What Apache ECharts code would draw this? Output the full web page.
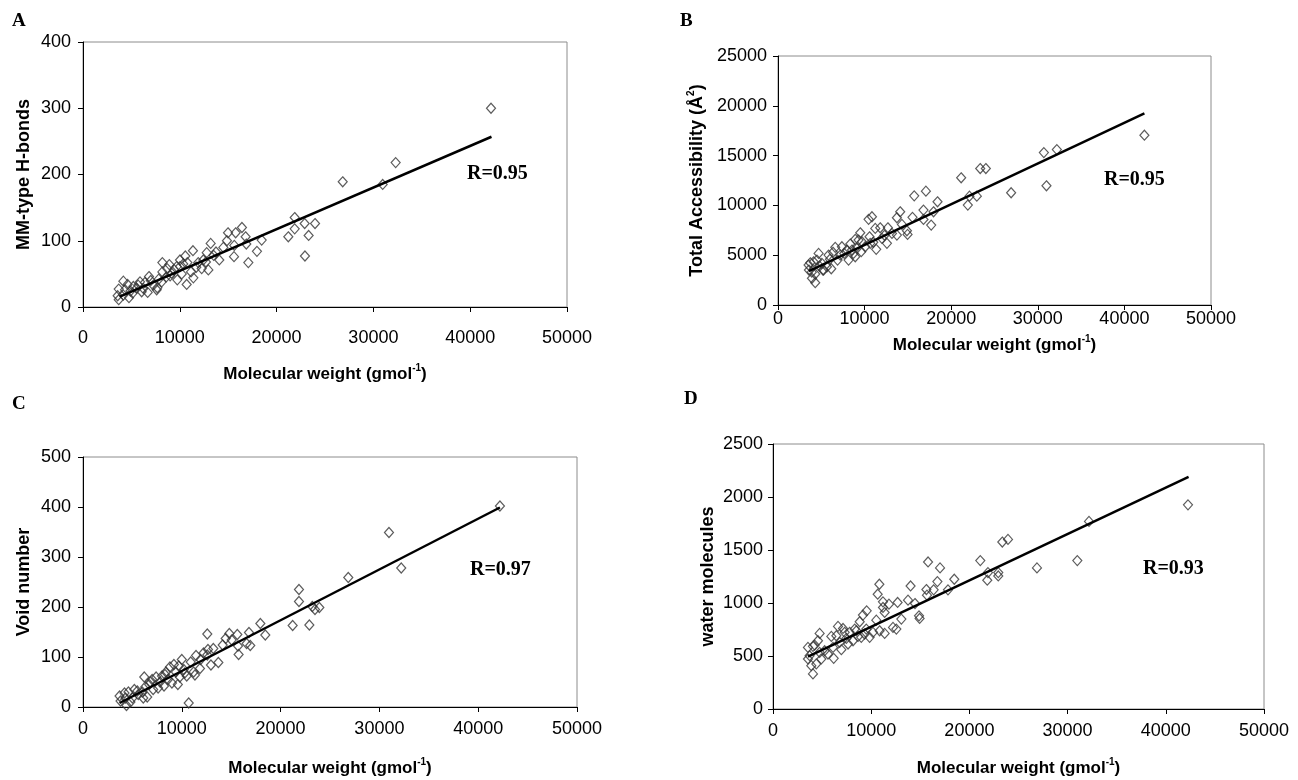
<!DOCTYPE html>
<html>
<head>
<meta charset="utf-8">
<script src="https://cdn.jsdelivr.net/npm/echarts@6/dist/echarts.min.js"></script>
<style>html,body{margin:0;padding:0;background:#fff}#c{width:1298px;height:780px}</style>
</head>
<body>
<div id="c"></div>
<script>
// ---------- DATA ----------
const xTicks = [0, 10000, 20000, 30000, 40000, 50000];

const hbondsA = [[42150,300],[32300,218],[26830,189],[30960,185],[21870,135],[22900,126],[23970,126],[21870,118],[21210,106],[23310,108],[22930,77],[18460,101],[17970,84],[17080,67],[16420,120],[16800,106],[16870,95],[15770,112],[14980,112],[14870,100],[15630,93],[15600,76],[14500,90],[14080,71],[13740,83],[13190,96],[12780,82],[12950,56],[12260,58],[12700,68],[11360,85],[10570,77],[10020,71],[10710,34],[11400,44],[11160,53],[9740,41],[8200,67],[8920,64],[9680,61],[8200,53],[7820,42],[7610,26],[6820,46],[5890,38],[6680,22],[6060,23],[5200,31],[4750,14],[4170,39],[4610,34],[3690,27],[3580,17],[3690,11],[4170,18],[4340,26],[5130,21],[5540,28],[6230,28],[7260,33],[8130,38],[8580,45],[9160,51],[9440,56],[10020,61],[10360,65],[10780,67],[11910,67],[12430,71],[7680,29],[6400,37],[9000,47],[7000,40],[5700,33],[4900,24],[8700,58],[10200,50],[11700,60],[13500,78]];
const fitA = [[3800,15.6],[42200,257]];

const accessB = [[42310,17050],[32200,15600],[30700,15300],[31000,11970],[26920,11270],[24000,13700],[23350,13700],[21150,12770],[22960,10930],[22110,10930],[21920,10030],[18420,10360],[17960,9360],[17690,8020],[17080,11430],[16800,9530],[16800,8590],[15730,10960],[15530,8800],[14890,7450],[14960,7090],[14110,9360],[13730,8760],[14310,8090],[13730,7020],[12690,7750],[11800,7750],[12580,6190],[11340,5590],[11230,7690],[10850,8860],[10460,8600],[10570,6850],[9500,7250],[9690,6350],[8920,6590],[8340,6120],[8920,4840],[9610,5350],[8150,4510],[7380,5850],[6610,5790],[6350,5290],[6880,4510],[6150,3640],[5840,5010],[5190,3510],[4690,5180],[4500,4510],[4110,4340],[4300,3110],[3920,2680],[4300,2240],[3570,3510],[3530,4010],[3730,4240],[5070,4180],[5260,3510],[5650,3840],[7190,5010],[7650,5180],[8540,5520],[9120,5690],[10070,5850],[10650,6190],[12000,6690],[13160,7190],[7960,5520],[8720,5180],[9300,6520],[11000,6300],[12300,7000],[6000,4600],[4800,3900],[3900,3300]];
const fitB = [[3570,3400],[42310,19230]];

const voidsC = [[42200,402],[30970,349],[32210,278],[26850,259],[21860,235],[21860,211],[23210,201],[23920,199],[23480,195],[21220,163],[22910,164],[17950,167],[18450,144],[16800,149],[16930,123],[16560,127],[15750,105],[15620,145],[14810,147],[14440,137],[15050,134],[15690,122],[12580,146],[12650,115],[13190,117],[14140,124],[13700,89],[12950,84],[12580,104],[11440,103],[11840,77],[11330,64],[10700,8],[3700,22],[3800,12],[4200,28],[4400,3],[4600,30],[4800,10],[5000,18],[5200,35],[5600,25],[6000,30],[6200,60],[6300,40],[6500,20],[6700,45],[7000,55],[7100,35],[7400,60],[7600,38],[7800,50],[8000,62],[8200,42],[8400,70],[8600,55],[8800,80],[9000,48],[9200,85],[9400,70],[9600,45],[9800,60],[10000,95],[10200,75],[10500,62],[10900,90],[11200,70],[11900,95],[12200,108],[4300,18],[5500,32],[6800,50],[8300,65],[9700,82],[10300,68],[6100,18]];
const fitC = [[3700,8],[42200,399]];

const waterD = [[42260,1926],[32180,1770],[30990,1400],[26880,1331],[23930,1600],[23350,1575],[22940,1287],[22940,1255],[21820,1215],[21890,1287],[21110,1400],[18460,1224],[17820,1124],[17010,1331],[16740,1202],[16360,1124],[15790,1387],[15620,1127],[15680,1074],[14010,1161],[14460,995],[13750,1027],[14870,879],[14930,854],[12690,1005],[11810,989],[11200,1011],[10830,1177],[10660,1083],[11200,958],[10520,838],[9540,926],[9160,886],[8830,823],[8320,754],[6620,779],[7130,760],[5940,685],[4750,713],[4580,644],[4240,603],[4070,591],[3560,581],[3730,503],[3560,472],[3900,409],[4070,331],[4410,425],[4920,472],[5600,519],[6180,478],[6960,560],[7640,613],[8150,644],[8660,685],[9330,707],[10180,723],[11370,713],[12220,770],[12560,754],[13070,848],[11370,911],[7300,723],[7810,723],[6450,691],[5260,550],[8490,738],[9500,754],[6790,628],[7470,666],[6110,581],[4750,534],[8990,676],[9840,676],[10860,738]];
const fitD = [[3560,494],[42320,2190]];

const panels = [
  {letter:'A', yName:'MM-type H-bonds', yMax:400, yInt:100, pts:hbondsA, fit:fitA, r:'R=0.95',
   grid:{left:83, top:42, width:484, height:265}, xLabMargin:22, xNameGap:56, yLabMargin:12, yNameGap:48,
   letterPos:[12,22], rPos:[467,175]},
  {letter:'B', yName:'Total Accessibility (Å{sup|2})', yMax:25000, yInt:5000, pts:accessB, fit:fitB, r:'R=0.95',
   grid:{left:778, top:56, width:433, height:249}, xLabMargin:5, xNameGap:29, yLabMargin:11, yNameGap:70,
   letterPos:[680,22], rPos:[1104,181]},
  {letter:'C', yName:'Void number', yMax:500, yInt:100, pts:voidsC, fit:fitC, r:'R=0.97',
   grid:{left:83, top:457, width:494, height:250}, xLabMargin:13, xNameGap:50, yLabMargin:12, yNameGap:48,
   letterPos:[12,405], rPos:[470,571]},
  {letter:'D', yName:'water molecules', yMax:2500, yInt:500, pts:waterD, fit:fitD, r:'R=0.93',
   grid:{left:773, top:444, width:491, height:265}, xLabMargin:13, xNameGap:48, yLabMargin:10, yNameGap:50,
   letterPos:[684,400], rPos:[1143,570]}
];

// ---------- CHART ----------
const chart = echarts.init(document.getElementById('c'), null, {renderer:'canvas'});
const sans = '"Liberation Sans", Arial, sans-serif';
const serif = '"Liberation Serif", "Times New Roman", serif';
const grids = [], xAxes = [], yAxes = [], series = [], graphics = [];
const supRich = {sup:{fontFamily:sans, fontWeight:'bold', fontSize:10, lineHeight:10, color:'#000', verticalAlign:'top'}};

panels.forEach((p, i) => {
  grids.push(Object.assign({show:true, borderColor:'#8c8c8c', borderWidth:1, backgroundColor:'transparent', containLabel:false}, p.grid));
  xAxes.push({
    type:'value', gridIndex:i, min:xTicks[0], max:xTicks[xTicks.length-1], interval:10000,
    name:'Molecular weight (gmol{sup|-1})', nameLocation:'middle', nameGap:p.xNameGap,
    nameTextStyle:{fontFamily:sans, fontWeight:'bold', fontSize:17, lineHeight:22, color:'#000', rich:supRich},
    axisLine:{show:true, onZero:false, lineStyle:{color:'#000', width:1}},
    axisTick:{show:true, inside:false, length:5, lineStyle:{color:'#000'}},
    axisLabel:{fontFamily:sans, fontSize:18, color:'#000', margin:p.xLabMargin, formatter:v => String(v)},
    splitLine:{show:false}
  });
  yAxes.push({
    type:'value', gridIndex:i, min:0, max:p.yMax, interval:p.yInt,
    name:p.yName, nameLocation:'middle', nameGap:p.yNameGap, nameRotate:90,
    nameTextStyle:{fontFamily:sans, fontWeight:'bold', fontSize:18, lineHeight:22, color:'#000', rich:supRich},
    axisLine:{show:true, onZero:false, lineStyle:{color:'#000', width:1}},
    axisTick:{show:true, inside:false, length:5, lineStyle:{color:'#000'}},
    axisLabel:{fontFamily:sans, fontSize:18, color:'#000', margin:p.yLabMargin, formatter:v => String(v)},
    splitLine:{show:false}
  });
  series.push({
    type:'scatter', xAxisIndex:i, yAxisIndex:i, data:p.pts, symbol:'diamond', symbolSize:[9,10],
    itemStyle:{color:'rgba(255,255,255,0)', borderColor:'#333', borderWidth:1.2}, silent:true, z:2
  });
  series.push({
    type:'line', xAxisIndex:i, yAxisIndex:i, data:p.fit, showSymbol:false, symbol:'none',
    lineStyle:{color:'#000', width:2.5}, silent:true, z:3
  });
  graphics.push({type:'text', left:p.letterPos[0], top:p.letterPos[1]-10,
    style:{text:p.letter, font:'bold 19px ' + serif, fill:'#000'}});
  graphics.push({type:'text', left:p.rPos[0], top:p.rPos[1]-11,
    style:{text:p.r, font:'bold 20px ' + serif, fill:'#000'}});
});

chart.setOption({
  animation:false,
  backgroundColor:'#fff',
  grid:grids, xAxis:xAxes, yAxis:yAxes, series:series, graphic:graphics
});
</script>
</body>
</html>
